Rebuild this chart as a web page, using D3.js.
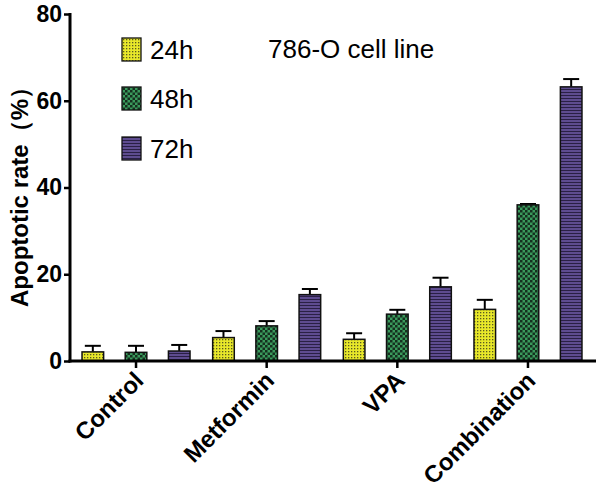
<!DOCTYPE html>
<html><head><meta charset="utf-8">
<script src="https://cdn.jsdelivr.net/npm/d3@7"></script>
<style>body{margin:0;background:#fff}</style>
</head><body>
<svg id="c" width="600" height="493"></svg>
<script>
const categories = ["Control", "Metformin", "VPA", "Combination"];
const seriesNames = ["24h", "48h", "72h"];
const values24 = [2.1, 5.4, 5.0, 11.9];
const values48 = [2.0, 8.1, 10.8, 36.0];
const values72 = [2.3, 15.3, 17.1, 63.2];
const errors24 = [1.4, 1.5, 1.4, 2.2];
const errors48 = [1.5, 1.1, 1.0, 0.2];
const errors72 = [1.4, 1.3, 2.1, 1.8];
const yTicks = [0, 20, 40, 60, 80];

const FONT = "Liberation Sans, Arial, sans-serif";
const svg = d3.select("#c");
const defs = svg.append("defs");
let p = defs.append("pattern").attr("id","pY").attr("width",3).attr("height",3).attr("patternUnits","userSpaceOnUse");
p.append("rect").attr("width",3).attr("height",3).attr("fill","#e8e82a");
p.append("rect").attr("width",1.3).attr("height",1.3).attr("fill","#5a5a20");
p = defs.append("pattern").attr("id","pG").attr("width",5).attr("height",5).attr("patternUnits","userSpaceOnUse");
p.append("rect").attr("width",5).attr("height",5).attr("fill","#3a9a5c");
p.append("rect").attr("width",2.5).attr("height",2.5).attr("fill","#16301f");
p.append("rect").attr("x",2.5).attr("y",2.5).attr("width",2.5).attr("height",2.5).attr("fill","#16301f");
p = defs.append("pattern").attr("id","pP").attr("width",4).attr("height",3).attr("patternUnits","userSpaceOnUse");
p.append("rect").attr("width",4).attr("height",3).attr("fill","#5e4c90");
p.append("rect").attr("y",2).attr("width",4).attr("height",1).attr("fill","#2a2045");

const fills = ["url(#pY)","url(#pG)","url(#pP)"];
const series = [values24, values48, values72];
const errs = [errors24, errors48, errors72];

const y = d3.scaleLinear().domain([0,80]).range([361,14]);
const x = d3.scaleBand().domain(categories).range([70.7,593.3]).padding(0);
const sub = d3.scaleBand().domain(seriesNames).range([-54,54]).paddingInner(0.5).paddingOuter(0);

series.forEach((vals,si)=>{
  const g = svg.append("g");
  categories.forEach((c,ci)=>{
    const cx = x(c)+x.bandwidth()/2 + sub(seriesNames[si]) + sub.bandwidth()/2;
    const v = vals[ci], e = errs[si][ci];
    g.append("line").attr("x1",cx).attr("x2",cx).attr("y1",y(v)).attr("y2",y(v+e)).attr("stroke","#000").attr("stroke-width",2);
    g.append("line").attr("x1",cx-8).attr("x2",cx+8).attr("y1",y(v+e)).attr("y2",y(v+e)).attr("stroke","#000").attr("stroke-width",2);
    g.append("rect").attr("x",cx-sub.bandwidth()/2).attr("width",sub.bandwidth())
      .attr("y",y(v)).attr("height",y(0)-y(v))
      .attr("fill",fills[si]).attr("stroke","#111").attr("stroke-width",1.5);
  });
});

const ya = svg.append("g").attr("transform","translate(70,0)")
  .call(d3.axisLeft(y).tickValues(yTicks).tickSize(6).tickPadding(2));
ya.select(".domain").remove();
ya.selectAll(".tick line").attr("stroke","#000").attr("stroke-width",2.5);
ya.selectAll("text").attr("font-family",FONT).attr("font-weight","bold").attr("font-size",23).attr("fill","#000");
svg.append("line").attr("x1",70).attr("x2",70).attr("y1",y(80)-1).attr("y2",y(0)+1.5).attr("stroke","#000").attr("stroke-width",3);

const xa = svg.append("g").attr("transform","translate(0,361)")
  .call(d3.axisBottom(x).tickSize(7).tickFormat(""));
xa.select(".domain").remove();
xa.selectAll(".tick line").attr("stroke","#000").attr("stroke-width",2.5);
svg.append("line").attr("x1",68.5).attr("x2",596).attr("y1",361).attr("y2",361).attr("stroke","#000").attr("stroke-width",3);
categories.forEach(c=>{
  const tx = x(c)+x.bandwidth()/2 + 9, ty = 382;
  svg.append("text").attr("x",tx).attr("y",ty).attr("transform",`rotate(-45,${tx},${ty})`)
    .attr("text-anchor","end").attr("font-family",FONT)
    .attr("font-weight","bold").attr("font-size",24).attr("fill","#000").text(c);
});

svg.append("text").attr("transform","translate(28,191) rotate(-90)").attr("text-anchor","middle")
  .attr("font-family",FONT).attr("font-weight","bold").attr("font-size",24).attr("fill","#000")
  .text("Apoptotic rate（%）");

const ly = [49.5, 98.5, 148.5];
seriesNames.forEach((s,i)=>{
  svg.append("rect").attr("x",122).attr("y",ly[i]-11.5).attr("width",19).attr("height",23)
    .attr("fill",fills[i]).attr("stroke","#111").attr("stroke-width",1.3);
  svg.append("text").attr("x",150).attr("y",ly[i]+9.5).attr("font-family",FONT)
    .attr("font-size",26).attr("fill","#000").text(s);
});
svg.append("text").attr("x",268).attr("y",58).attr("font-family",FONT)
  .attr("font-size",26).attr("fill","#000").text("786-O cell line");
</script>
</body></html>
